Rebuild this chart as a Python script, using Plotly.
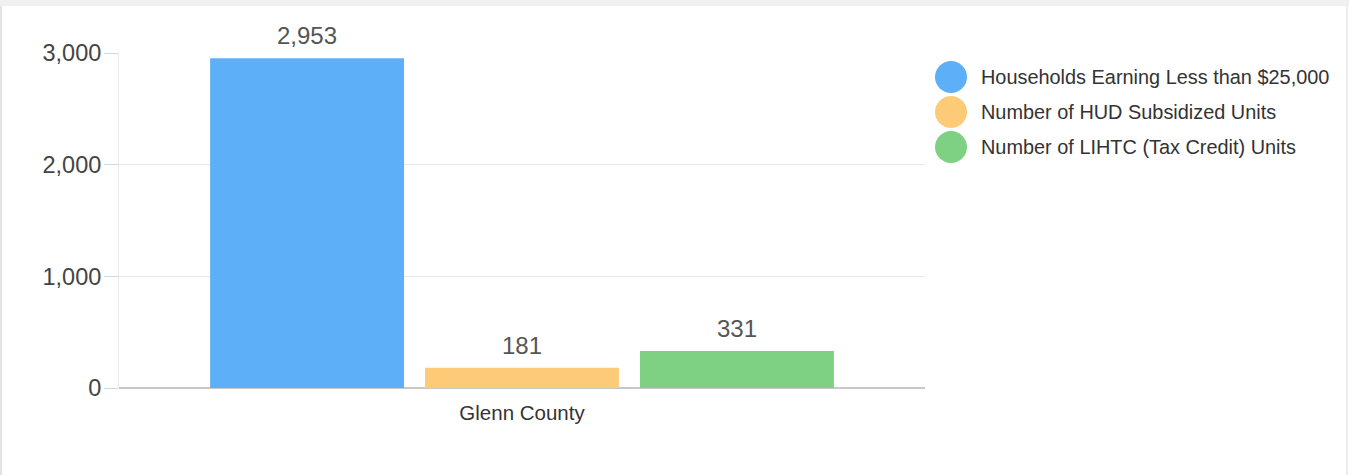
import plotly.graph_objects as go

# Data
categories = ["Glenn County"]
series_names = [
    "Households Earning Less than $25,000",
    "Number of HUD Subsidized Units",
    "Number of LIHTC (Tax Credit) Units",
]
series_values = [[2953], [181], [331]]
series_colors = ["#5DAFF8", "#FDCB78", "#7ED082"]
y_ticks = [0, 1000, 2000, 3000]

W, H = 1349, 475
L, R, T, B = 119, 424, 53, 87
plot_w = W - L - R
plot_h = H - T - B
BARGAP = 0.2
BARGROUPGAP = 0.098


def px(x):
    return (x - L) / plot_w


def py(y):
    return (H - B - y) / plot_h


fig = go.Figure()
annotations = []
n_series = len(series_names)
slot_px = plot_w / len(categories) * (1 - BARGAP) / n_series
for i, (name, vals, color) in enumerate(zip(series_names, series_values, series_colors)):
    fig.add_trace(go.Bar(
        x=categories, y=vals, name=name,
        marker=dict(color=color, line=dict(width=0)),
        showlegend=False,
    ))
    # value labels above each bar, shifted onto its slot within the group
    for cat, v in zip(categories, vals):
        annotations.append(dict(
            x=cat, y=v, xref="x", yref="y", text=f"{v:,}", showarrow=False,
            xanchor="center", yanchor="bottom",
            xshift=(i - (n_series - 1) / 2) * slot_px, yshift=7,
            font=dict(size=24, color="#555555"),
        ))

shapes = [
    # top band and side borders of the card
    dict(type="rect", xref="paper", yref="paper", x0=px(0), x1=px(W), y0=py(6), y1=py(0),
         fillcolor="#f0f0f0", line=dict(width=0), layer="below"),
    dict(type="line", xref="paper", yref="paper", x0=px(1), x1=px(1), y0=py(H), y1=py(6),
         line=dict(color="#d9d9d9", width=1.5)),
    dict(type="line", xref="paper", yref="paper", x0=px(1347), x1=px(1347), y0=py(H), y1=py(6),
         line=dict(color="#e6e6e6", width=1.5)),
]

# legend with round swatches
leg_cx, leg_r, leg_y0, leg_dy, leg_tx = 951, 16, 77, 35, 979
for i, (name, color) in enumerate(zip(series_names, series_colors)):
    cy = leg_y0 + i * leg_dy
    shapes.append(dict(type="circle", xref="paper", yref="paper",
                       x0=px(leg_cx - leg_r), x1=px(leg_cx + leg_r),
                       y0=py(cy + leg_r), y1=py(cy - leg_r),
                       fillcolor=color, line=dict(width=0)))
    annotations.append(dict(xref="paper", yref="paper", x=px(leg_tx), y=py(cy),
                            text=name, showarrow=False, xanchor="left", yanchor="middle",
                            font=dict(size=19.9, color="#333333")))

fig.update_layout(
    width=W, height=H,
    margin=dict(l=L, r=R, t=T, b=B, pad=0),
    paper_bgcolor="white", plot_bgcolor="white",
    font=dict(family="Liberation Sans, Arial, sans-serif", color="#444444"),
    barmode="group", bargap=BARGAP, bargroupgap=BARGROUPGAP,
    showlegend=False,
    shapes=shapes, annotations=annotations,
    xaxis=dict(
        showgrid=False, showline=False, zeroline=False, ticks="",
        tickfont=dict(size=20.5, color="#333333"), ticklabelstandoff=10,
    ),
    yaxis=dict(
        range=[0, 3000], tickvals=y_ticks, tickformat=",",
        tickfont=dict(size=23.5, color="#444444"),
        showgrid=True, gridcolor="#e8e8e8", gridwidth=1,
        zeroline=True, zerolinecolor="#c8c8c8", zerolinewidth=2,
        showline=True, linecolor="#e8e8e8", linewidth=1,
        ticks="outside", ticklen=14, tickcolor="#d6d6d6",
        ticklabelstandoff=-2,
    ),
)

fig.write_html("out.html")
